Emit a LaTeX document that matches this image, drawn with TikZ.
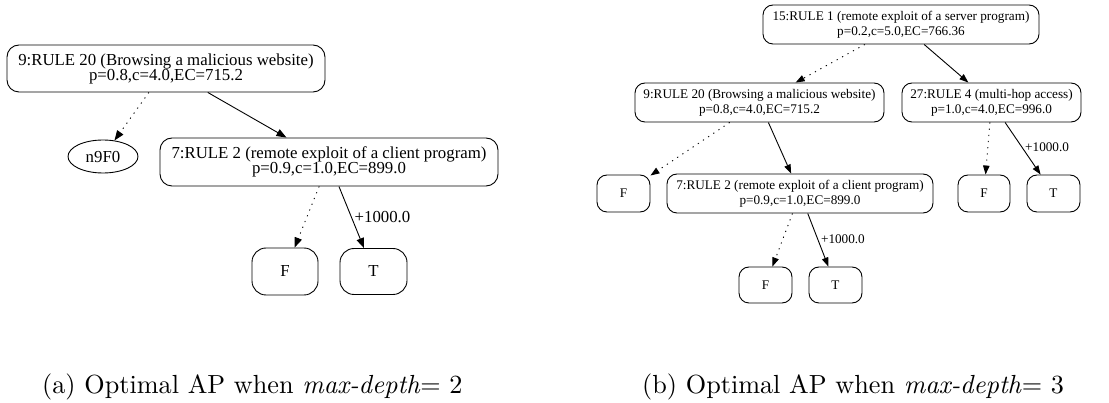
\documentclass[tikz,border=0pt]{standalone}
\usepackage{fontspec}
\newfontfamily\tms{Liberation Serif}
\usetikzlibrary{arrows.meta,shapes.geometric}
\begin{document}
\begin{tikzpicture}[x=1pt,y=-1pt,
  abox/.style={draw, rounded corners=12pt, line width=0.9pt, inner sep=0pt, align=center,
     font={\tms\fontsize{16.8}{15}\selectfont}},
  bbox/.style={draw, rounded corners=10pt, line width=0.9pt, inner sep=0pt, align=center,
     font={\tms\fontsize{13.2}{15}\selectfont}},
  aedge/.style={line width=0.9pt, -{Triangle[length=10pt,width=7.5pt]}},
  adot/.style={aedge, dash pattern=on 1.2pt off 5pt},
  bedge/.style={line width=0.9pt, -{Triangle[length=9pt,width=6.5pt]}},
  bdot/.style={bedge, dash pattern=on 1.2pt off 5pt},
  alab/.style={anchor=west, inner sep=0pt, font={\tms\fontsize{16.8}{15}\selectfont}},
  blab/.style={anchor=west, inner sep=0pt, font={\tms\fontsize{13.2}{15}\selectfont}},
  captext/.style={anchor=base west, inner sep=0pt, font={\fontsize{10}{12}\selectfont}}]
\useasboundingbox (0,0) rectangle (1109,403);

% ---------- panel (a) ----------
\node[abox, minimum width=318pt, minimum height=47pt] (a9) at (166,68.5)
  {9:RULE 20 (Browsing a malicious website)\\p=0.8,c=4.0,EC=715.2};
\node[draw, ellipse, line width=0.9pt, inner sep=0pt, minimum width=70pt, minimum height=33pt,
  font={\tms\fontsize{16.8}{15}\selectfont}] (aN) at (103,156.5) {n9F0};
\node[abox, minimum width=338pt, minimum height=48pt] (a7) at (329,162)
  {7:RULE 2 (remote exploit of a client program)\\p=0.9,c=1.0,EC=899.0};
\node[abox, rounded corners=14pt, minimum width=66pt, minimum height=47pt] (aF) at (285,271.5) {F};
\node[abox, rounded corners=14pt, minimum width=67pt, minimum height=46pt] (aT) at (373.5,271.5) {T};

\draw[adot] (a9) -- (aN);
\draw[aedge] (a9) -- (a7);
\draw[adot] (a7) -- (aF);
\draw[aedge] (a7) -- (aT) node[alab, pos=0.49, xshift=3pt] (alab1) {+1000.0};

% ---------- panel (b) ----------
\node[bbox, minimum width=276pt, minimum height=39pt] (b15) at (901,24.5)
  {15:RULE 1 (remote exploit of a server program)\\p=0.2,c=5.0,EC=766.36};
\node[bbox, minimum width=249pt, minimum height=39pt] (b9) at (759.5,102.5)
  {9:RULE 20 (Browsing a malicious website)\\p=0.8,c=4.0,EC=715.2};
\node[bbox, minimum width=179pt, minimum height=39pt] (b27) at (991.5,102.5)
  {27:RULE 4 (multi-hop access)\\p=1.0,c=4.0,EC=996.0};
\node[bbox, minimum width=53pt, minimum height=37pt] (bF1) at (623.5,193.5) {F};
\node[bbox, minimum width=266pt, minimum height=39pt] (b7) at (800,193.5)
  {7:RULE 2 (remote exploit of a client program)\\p=0.9,c=1.0,EC=899.0};
\node[bbox, minimum width=52pt, minimum height=37pt] (bF2) at (984,193.5) {F};
\node[bbox, minimum width=53pt, minimum height=37pt] (bT2) at (1053.5,193.5) {T};
\node[bbox, minimum width=53pt, minimum height=36pt] (bF3) at (765.5,285) {F};
\node[bbox, minimum width=53pt, minimum height=36pt] (bT3) at (835.5,285) {T};

\draw[bdot] (b15) -- (b9);
\draw[bedge] (b15) -- (b27);
\draw[bdot] (b9) -- (bF1);
\draw[bedge] (b9) -- (b7);
\draw[bdot] (b27) -- (bF2);
\draw[bedge] (b27) -- (bT2) node[blab, pos=0.47, xshift=3pt] (blab1) {+1000.0};
\draw[bdot] (b7) -- (bF3);
\draw[bedge] (b7) -- (bT3) node[blab, pos=0.48, xshift=3pt] (blab2) {+1000.0};

% ---------- captions ----------
\node[captext] (capa) at (42,394) {\scalebox{2.62}{(a) Optimal AP when \textit{max-depth}= 2}};
\node[captext] (capb) at (642,394) {\scalebox{2.62}{(b) Optimal AP when \textit{max-depth}= 3}};
\end{tikzpicture}
\end{document}
